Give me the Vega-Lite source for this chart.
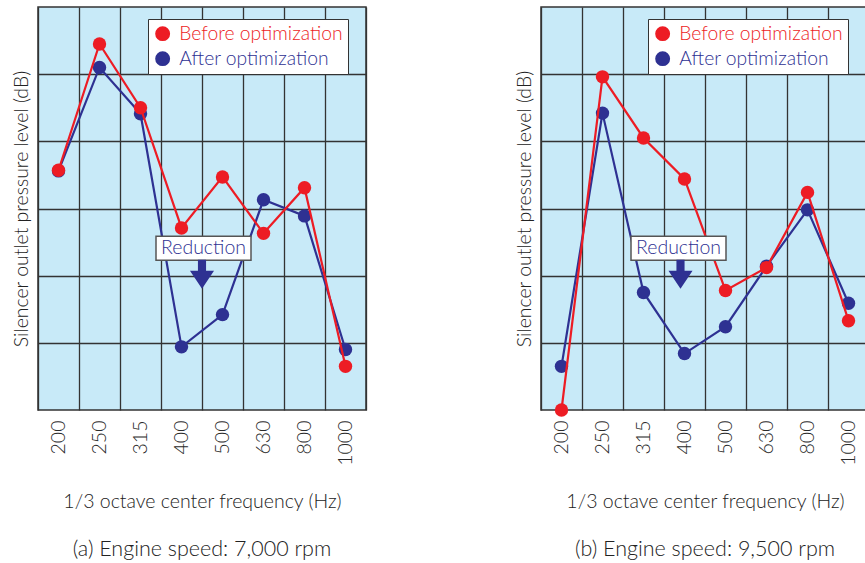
{
  "$schema": "https://vega.github.io/schema/vega-lite/v6.json",
  "background": "white",
  "padding": {"left": 10, "top": 6, "right": 0, "bottom": 0},
  "datasets": {
    "a": [
      {"freq": "200", "series": "Before optimization", "level": 95.7},
      {"freq": "250", "series": "Before optimization", "level": 114.5},
      {"freq": "315", "series": "Before optimization", "level": 105.0},
      {"freq": "400", "series": "Before optimization", "level": 87.1},
      {"freq": "500", "series": "Before optimization", "level": 94.7},
      {"freq": "630", "series": "Before optimization", "level": 86.3},
      {"freq": "800", "series": "Before optimization", "level": 93.1},
      {"freq": "1000", "series": "Before optimization", "level": 66.5},
      {"freq": "200", "series": "After optimization", "level": 95.6},
      {"freq": "250", "series": "After optimization", "level": 111.0},
      {"freq": "315", "series": "After optimization", "level": 104.1},
      {"freq": "400", "series": "After optimization", "level": 69.4},
      {"freq": "500", "series": "After optimization", "level": 74.2},
      {"freq": "630", "series": "After optimization", "level": 91.3},
      {"freq": "800", "series": "After optimization", "level": 88.9},
      {"freq": "1000", "series": "After optimization", "level": 69.0}
    ],
    "b": [
      {"freq": "200", "series": "Before optimization", "level": 60.0},
      {"freq": "250", "series": "Before optimization", "level": 109.6},
      {"freq": "315", "series": "Before optimization", "level": 100.5},
      {"freq": "400", "series": "Before optimization", "level": 94.4},
      {"freq": "500", "series": "Before optimization", "level": 77.8},
      {"freq": "630", "series": "Before optimization", "level": 81.2},
      {"freq": "800", "series": "Before optimization", "level": 92.4},
      {"freq": "1000", "series": "Before optimization", "level": 73.3},
      {"freq": "200", "series": "After optimization", "level": 66.5},
      {"freq": "250", "series": "After optimization", "level": 104.2},
      {"freq": "315", "series": "After optimization", "level": 77.5},
      {"freq": "400", "series": "After optimization", "level": 68.4},
      {"freq": "500", "series": "After optimization", "level": 72.4},
      {"freq": "630", "series": "After optimization", "level": 81.4},
      {"freq": "800", "series": "After optimization", "level": 89.8},
      {"freq": "1000", "series": "After optimization", "level": 75.9}
    ],
    "notes": [
      {"freq": "400", "level": 84.1, "label": "Reduction"}
    ],
    "arrows": [
      {"freq": "400", "level": 80.2}
    ]
  },
  "spacing": 146,
  "resolve": {"scale": {"color": "independent"}, "legend": {"color": "independent"}},
  "hconcat": [
    {
      "width": 328,
      "height": 403,
      "title": {"text": "(a) Engine speed: 7,000 rpm", "orient": "bottom", "offset": 28, "fontSize": 21.5, "font": "Lato", "fontWeight": 300, "color": "#222222"},
      "encoding": {
        "x": {"field": "freq", "type": "ordinal",
          "scale": {"type": "band", "domain": ["200", "250", "315", "400", "500", "630", "800", "1000"], "paddingInner": 0, "paddingOuter": 0},
          "axis": {"title": "1/3 octave center frequency (Hz)", "labelAngle": -90, "tickBand": "extent", "ticks": false, "domain": false, "grid": true, "gridColor": "#333333", "gridWidth": 1.3, "gridOpacity": 1, "labelFontSize": 19.5, "labelFontWeight": 300, "labelPadding": 10, "labelColor": "#2a2a2a", "labelFont": "Lato", "titleFont": "Lato", "titleFontSize": 19.5, "titlePadding": 27, "titleColor": "#222222", "titleFontWeight": 300}},
        "y": {"field": "level", "type": "quantitative",
          "scale": {"domain": [60, 120], "nice": false, "zero": false},
          "axis": {"title": "Silencer outlet pressure level (dB)", "labels": false, "ticks": false, "domain": false, "grid": true, "values": [70, 80, 90, 100, 110], "gridColor": "#333333", "gridWidth": 1.3, "gridOpacity": 1, "titleFont": "Lato", "titleFontSize": 19.4, "titlePadding": 7, "titleFontWeight": 300, "titleColor": "#222222"}}
      },
      "layer": [
        {
          "data": {"name": "a"},
          "transform": [{"filter": "datum.series === 'After optimization'"}],
          "mark": {"type": "line", "strokeWidth": 2.2, "point": {"filled": true, "size": 180, "opacity": 1}},
          "encoding": {
            "color": {"field": "series", "type": "nominal",
              "scale": {"domain": ["Before optimization", "After optimization"], "range": ["#ed1c24", "#2e3192"]},
              "legend": {"orient": "none", "legendX": 110, "legendY": 12, "title": null, "fillColor": "white", "strokeColor": "#333333", "padding": 5, "labelFontSize": 19.3, "labelFont": "Lato", "labelFontWeight": 300, "labelLimit": 400, "symbolSize": 180, "symbolType": "circle", "rowPadding": 4, "labelOffset": 7,
                "encode": {
                  "labels": {"update": {"fill": {"signal": "datum.value === 'Before optimization' ? '#ed1c24' : '#2e3192'"}}},
                  "symbols": {"update": {"fill": {"signal": "datum.value === 'Before optimization' ? '#ed1c24' : '#2e3192'"}, "stroke": {"value": "transparent"}, "opacity": {"value": 1}}}
                }}}
          }
        },
        {
          "data": {"name": "a"},
          "transform": [{"filter": "datum.series === 'Before optimization'"}],
          "mark": {"type": "line", "strokeWidth": 2.2, "point": {"filled": true, "size": 180, "opacity": 1}},
          "encoding": {
            "color": {"field": "series", "type": "nominal",
              "scale": {"domain": ["Before optimization", "After optimization"], "range": ["#ed1c24", "#2e3192"]}}
          }
        },
        {
          "data": {"name": "notes"},
          "mark": {"type": "point", "shape": "M-1,-0.2526L1,-0.2526L1,0.2526L-1,0.2526Z", "size": 9025, "filled": true, "fill": "white", "stroke": "#555555", "strokeWidth": 1.5, "opacity": 1, "xOffset": 22}
        },
        {
          "data": {"name": "notes"},
          "mark": {"type": "text", "font": "Lato", "fontSize": 19.5, "fontWeight": 300, "color": "#2e3192", "align": "center", "baseline": "middle", "xOffset": 22},
          "encoding": {"text": {"field": "label"}}
        },
        {
          "data": {"name": "arrows"},
          "mark": {"type": "point", "shape": "M-0.28,-1L0.28,-1L0.28,-0.24L0.83,-0.24L0,1L-0.83,-0.24L-0.28,-0.24Z", "size": 841, "filled": true, "color": "#2e3192", "opacity": 1, "xOffset": 20.5}
        }
      ]
    },
    {
      "width": 328,
      "height": 403,
      "title": {"text": "(b) Engine speed: 9,500 rpm", "orient": "bottom", "offset": 28, "fontSize": 21.5, "font": "Lato", "fontWeight": 300, "color": "#222222"},
      "encoding": {
        "x": {"field": "freq", "type": "ordinal",
          "scale": {"type": "band", "domain": ["200", "250", "315", "400", "500", "630", "800", "1000"], "paddingInner": 0, "paddingOuter": 0},
          "axis": {"title": "1/3 octave center frequency (Hz)", "labelAngle": -90, "tickBand": "extent", "ticks": false, "domain": false, "grid": true, "gridColor": "#333333", "gridWidth": 1.3, "gridOpacity": 1, "labelFontSize": 19.5, "labelFontWeight": 300, "labelPadding": 10, "labelColor": "#2a2a2a", "labelFont": "Lato", "titleFont": "Lato", "titleFontSize": 19.5, "titlePadding": 27, "titleColor": "#222222", "titleFontWeight": 300}},
        "y": {"field": "level", "type": "quantitative",
          "scale": {"domain": [60, 120], "nice": false, "zero": false},
          "axis": {"title": "Silencer outlet pressure level (dB)", "labels": false, "ticks": false, "domain": false, "grid": true, "values": [70, 80, 90, 100, 110], "gridColor": "#333333", "gridWidth": 1.3, "gridOpacity": 1, "titleFont": "Lato", "titleFontSize": 19.4, "titlePadding": 7, "titleFontWeight": 300, "titleColor": "#222222"}}
      },
      "layer": [
        {
          "data": {"name": "b"},
          "transform": [{"filter": "datum.series === 'After optimization'"}],
          "mark": {"type": "line", "strokeWidth": 2.2, "point": {"filled": true, "size": 180, "opacity": 1}},
          "encoding": {
            "color": {"field": "series", "type": "nominal",
              "scale": {"domain": ["Before optimization", "After optimization"], "range": ["#ed1c24", "#2e3192"]},
              "legend": {"orient": "none", "legendX": 107, "legendY": 12, "title": null, "fillColor": "white", "strokeColor": "#333333", "padding": 5, "labelFontSize": 19.3, "labelFont": "Lato", "labelFontWeight": 300, "labelLimit": 400, "symbolSize": 180, "symbolType": "circle", "rowPadding": 4, "labelOffset": 7,
                "encode": {
                  "labels": {"update": {"fill": {"signal": "datum.value === 'Before optimization' ? '#ed1c24' : '#2e3192'"}}},
                  "symbols": {"update": {"fill": {"signal": "datum.value === 'Before optimization' ? '#ed1c24' : '#2e3192'"}, "stroke": {"value": "transparent"}, "opacity": {"value": 1}}}
                }}}
          }
        },
        {
          "data": {"name": "b"},
          "transform": [{"filter": "datum.series === 'Before optimization'"}],
          "mark": {"type": "line", "strokeWidth": 2.2, "point": {"filled": true, "size": 180, "opacity": 1}},
          "encoding": {
            "color": {"field": "series", "type": "nominal",
              "scale": {"domain": ["Before optimization", "After optimization"], "range": ["#ed1c24", "#2e3192"]}}
          }
        },
        {
          "data": {"name": "notes"},
          "mark": {"type": "point", "shape": "M-1,-0.2526L1,-0.2526L1,0.2526L-1,0.2526Z", "size": 9025, "filled": true, "fill": "white", "stroke": "#555555", "strokeWidth": 1.5, "opacity": 1, "xOffset": -6}
        },
        {
          "data": {"name": "notes"},
          "mark": {"type": "text", "font": "Lato", "fontSize": 19.5, "fontWeight": 300, "color": "#2e3192", "align": "center", "baseline": "middle", "xOffset": -6},
          "encoding": {"text": {"field": "label"}}
        },
        {
          "data": {"name": "arrows"},
          "mark": {"type": "point", "shape": "M-0.28,-1L0.28,-1L0.28,-0.24L0.83,-0.24L0,1L-0.83,-0.24L-0.28,-0.24Z", "size": 841, "filled": true, "color": "#2e3192", "opacity": 1, "xOffset": -4}
        }
      ]
    }
  ],
  "config": {
    "font": "Lato",
    "view": {"fill": "#c8eaf8", "stroke": "#333333", "strokeWidth": 1.5}
  }
}
